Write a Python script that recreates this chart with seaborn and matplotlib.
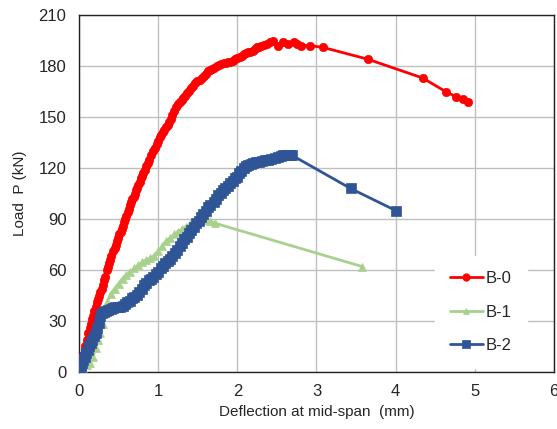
import matplotlib
matplotlib.use("Agg")
import matplotlib.pyplot as plt
import seaborn as sns
import pandas as pd

# Datos: deflexion (mm) y carga (kN)
b0_x = [0, 0.02, 0.04, 0.055, 0.07, 0.08, 0.1, 0.12, 0.135, 0.15,
        0.165, 0.18, 0.195, 0.21, 0.225, 0.24, 0.255, 0.27, 0.285, 0.3,
        0.315, 0.33, 0.35, 0.365, 0.38, 0.395, 0.41, 0.43, 0.45, 0.465,
        0.48, 0.495, 0.51, 0.525, 0.54, 0.555, 0.57, 0.585, 0.6, 0.615,
        0.63, 0.645, 0.66, 0.675, 0.69, 0.705, 0.72, 0.735, 0.75, 0.765,
        0.78, 0.795, 0.81, 0.83, 0.85, 0.87, 0.89, 0.915, 0.94, 0.96,
        0.98, 1.0, 1.02, 1.04, 1.06, 1.08, 1.1, 1.12, 1.14, 1.16,
        1.18, 1.205, 1.23, 1.255, 1.28, 1.3, 1.32, 1.34, 1.36, 1.385,
        1.41, 1.435, 1.46, 1.495, 1.53, 1.555, 1.58, 1.605, 1.63, 1.655,
        1.68, 1.71, 1.74, 1.77, 1.8, 1.83, 1.86, 1.885, 1.91, 1.94,
        1.97, 2.0, 2.03, 2.055, 2.08, 2.105, 2.13, 2.165, 2.2, 2.225,
        2.25, 2.275, 2.3, 2.335, 2.37, 2.41, 2.45, 2.52, 2.58, 2.64,
        2.71, 2.76, 2.81, 2.92, 3.08, 3.65, 4.34, 4.63, 4.76, 4.85,
        4.91]
b0_y = [0, 3, 7, 10, 13, 15, 19, 23, 26, 28,
        31, 33, 36, 38, 41, 43, 45, 47, 49, 51,
        54, 56, 60, 62, 64, 66, 68, 71, 73, 75,
        77, 79, 81, 82.5, 84, 86, 88, 90, 92, 94,
        96, 98, 100, 101.5, 103, 105, 107, 108.5, 110, 112,
        114, 115.5, 117, 119, 121, 123, 125, 127.5, 130, 132,
        134, 136, 138, 139.5, 141, 142.5, 144, 145.5, 147, 149,
        151, 153.5, 156, 157.5, 159, 160, 161, 162.5, 164, 165.5,
        167, 168.5, 170, 171, 172, 173, 174, 175.5, 177, 177.5,
        178, 179, 180, 180.5, 181, 181.5, 182, 182.3, 182.5, 183,
        184, 185, 185.5, 186, 187, 187.5, 188, 188.5, 189, 190,
        191, 191.5, 192, 192.5, 193, 194, 195, 192, 194, 193,
        194, 193, 192, 192, 191, 184, 173, 165, 162, 160.5,
        158.6]

b1_x = [0, 0.05, 0.1, 0.14, 0.18, 0.21, 0.24, 0.27, 0.3, 0.33,
        0.36, 0.4, 0.45, 0.5, 0.55, 0.6, 0.65, 0.7, 0.75, 0.8,
        0.85, 0.9, 0.95, 1.0, 1.05, 1.1, 1.15, 1.2, 1.25, 1.3,
        1.35, 1.4, 1.45, 1.5, 1.55, 1.58, 1.61, 1.65, 1.72, 3.58]
b1_y = [0, 2, 4, 5, 9, 14, 19, 23, 28, 35,
        41, 46, 49, 52, 55, 57, 59, 61, 63, 64.5,
        66, 67, 68.5, 71, 74, 77, 79, 81, 82.5, 84,
        85.5, 87, 88, 89, 90, 90.5, 89.4, 89, 87.5, 62]

b2_x = [0, 0.02, 0.04, 0.055, 0.07, 0.09, 0.11, 0.13, 0.15, 0.17,
        0.19, 0.21, 0.23, 0.25, 0.265, 0.29, 0.31, 0.34, 0.37, 0.4,
        0.43, 0.46, 0.49, 0.52, 0.55, 0.58, 0.61, 0.64, 0.67, 0.7,
        0.73, 0.76, 0.79, 0.82, 0.85, 0.88, 0.91, 0.94, 0.97, 1.0,
        1.03, 1.06, 1.09, 1.12, 1.15, 1.18, 1.21, 1.24, 1.27, 1.3,
        1.33, 1.36, 1.39, 1.42, 1.45, 1.48, 1.51, 1.54, 1.57, 1.6,
        1.63, 1.66, 1.7, 1.73, 1.76, 1.79, 1.82, 1.85, 1.88, 1.91,
        1.94, 1.97, 1.99, 2.02, 2.05, 2.08, 2.11, 2.14, 2.17, 2.2,
        2.23, 2.27, 2.31, 2.35, 2.39, 2.43, 2.47, 2.51, 2.55, 2.58,
        2.61, 2.64, 2.67, 2.69, 3.43, 4.0]
b2_y = [0, 3, 5, 7, 9, 11, 13, 15, 17, 19,
        21, 23, 26, 29, 33, 34.5, 35.5, 36, 36.5, 37,
        37.5, 38, 38.2, 38.4, 39, 40, 41, 42, 43.5, 44.3,
        45.5, 47, 49, 51, 52.5, 54, 55, 56, 57.5, 59,
        61, 62.5, 64, 65.5, 66.5, 68, 70, 72, 74, 76,
        78, 79.6, 81.5, 83.5, 85.5, 87.5, 89, 91, 93, 95,
        97, 98.5, 100, 102, 104, 105.5, 107, 108, 109.5, 111,
        112.5, 114, 115, 117, 118.5, 120, 121, 122, 122.5, 123,
        123.3, 123.6, 124, 124.5, 125, 125.5, 126, 126.5, 127, 127.5,
        127.5, 127.5, 127.5, 127.5, 108, 95]

series_names = ["B-0", "B-1", "B-2"]
series_colors = ["#FF0000", "#A9D18E", "#2F5597"]
series_markers = ["o", "^", "s"]
marker_sizes = [6, 5.5, 7]

x_ticks = [0, 1, 2, 3, 4, 5, 6]
y_ticks = [0, 30, 60, 90, 120, 150, 180, 210]

sns.set_style("white")
plt.rcParams["font.family"] = ["Liberation Sans", "DejaVu Sans"]
plt.rcParams["font.size"] = 11

fig = plt.figure(figsize=(5.57, 4.29), dpi=100)
ax = fig.add_axes([0.1418, 0.1329, 0.8528, 0.832])

datos = [(b0_x, b0_y), (b1_x, b1_y), (b2_x, b2_y)]
for (xs, ys), name, color, marker, ms in zip(datos, series_names, series_colors,
                                             series_markers, marker_sizes):
    df = pd.DataFrame({"x": xs, "y": ys})
    sns.lineplot(data=df, x="x", y="y", sort=False, estimator=None, ax=ax,
                 color=color, marker=marker, markersize=ms, linewidth=2,
                 markeredgecolor=color, markeredgewidth=0.5, label=name,
                 zorder=3)

ax.set_xlim(0, 6)
ax.set_ylim(0, 210)
ax.set_xticks(x_ticks)
ax.set_yticks(y_ticks)
ax.grid(True, color="#BFBFBF", linewidth=1)
ax.set_axisbelow(True)
ax.tick_params(length=0, labelsize=12, pad=9)
for s in ax.spines.values():
    s.set_color("#222222")
    s.set_linewidth(1)

ax.set_xlabel("Deflection at mid-span  (mm)", fontsize=11, labelpad=4)
ax.set_ylabel("Load  P (kN)", fontsize=11, labelpad=8)

leg = ax.legend(loc="lower right", bbox_to_anchor=(0.96, -0.012), frameon=True,
                fontsize=12, handlelength=2.0, handletextpad=0.15,
                labelspacing=1.1, borderpad=0.9, fancybox=False,
                markerscale=0.9)
leg.get_frame().set_edgecolor("white")
leg.get_frame().set_facecolor("white")
leg.get_frame().set_alpha(1)

fig.savefig("out.png", dpi=100)
